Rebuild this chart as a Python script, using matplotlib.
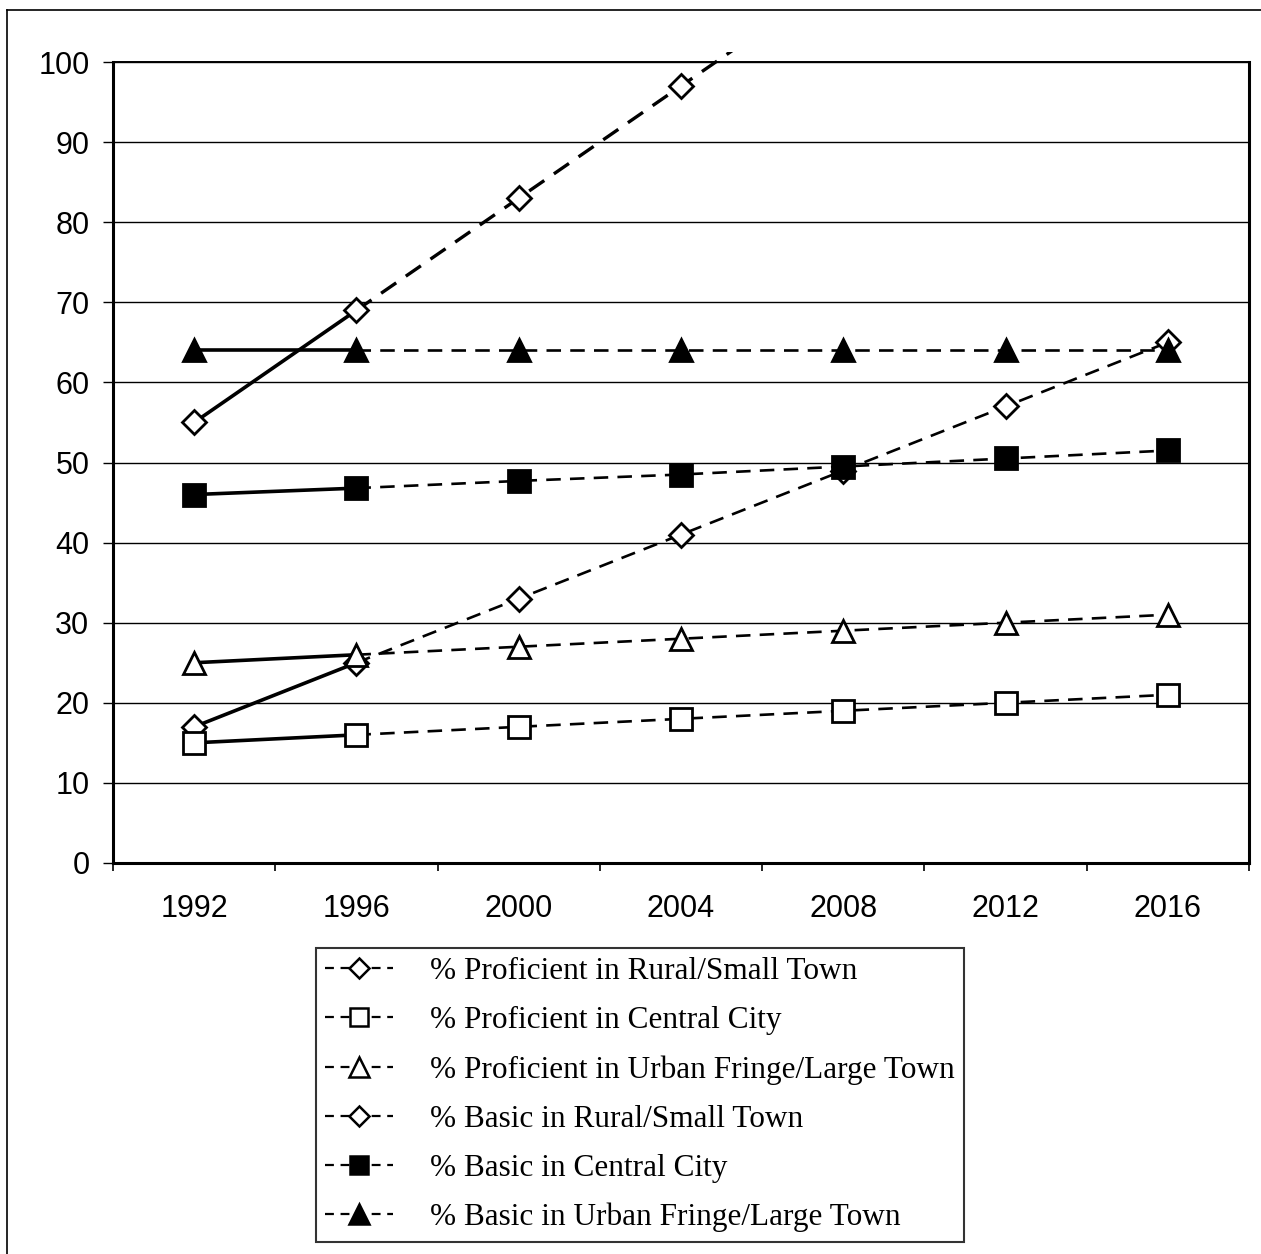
import matplotlib
matplotlib.use('Agg')
import matplotlib.pyplot as plt
from matplotlib.lines import Line2D
from matplotlib.patches import Rectangle

years = ['1992', '1996', '2000', '2004', '2008', '2012', '2016']

prof_rural = [17, 25, 33, 41, 49, 57, 65]
prof_central = [15, 16, 17, 18, 19, 20, 21]
prof_fringe = [25, 26, 27, 28, 29, 30, 31]
basic_rural = [55, 69, 83, 97, 111, 125, 139]
basic_central = [46, 46.8, 47.7, 48.5, 49.5, 50.5, 51.5]
basic_fringe = [64, 64, 64, 64, 64, 64, 64]

labels = ['% Proficient in Rural/Small Town',
          '% Proficient in Central City',
          '% Proficient in Urban Fringe/Large Town',
          '% Basic in Rural/Small Town',
          '% Basic in Central City',
          '% Basic in Urban Fringe/Large Town']

series = [prof_rural, prof_central, prof_fringe, basic_rural, basic_central, basic_fringe]
markers = [('D', 12.5, 'white'), ('s', 15.5, 'white'), ('^', 16.5, 'white'),
           ('D', 12.5, 'white'), ('s', 15.5, 'black'), ('^', 16.5, 'black')]

fig = plt.figure(figsize=(12.61, 12.54), dpi=100)
ax = fig.add_axes([113 / 1261, 1 - 863 / 1254, 1136 / 1261, 801 / 1254])

x = list(range(len(years)))
handles = []
for vals, (mk, ms, fc), lab in zip(series, markers, labels):
    # measured years drawn solid, later years dashed
    ax.plot(x[:2], vals[:2], color='black', lw=2.6, zorder=3)
    ln, = ax.plot(x[1:], vals[1:], color='black', lw=1.9, ls=(0, (5.5, 3.5)), zorder=3)
    ax.plot(x, vals, ls='none', marker=mk, ms=ms, mfc=fc, mec='black', mew=2.0, zorder=4)
    if vals is basic_rural:
        ln.set_linewidth(2.4)
        ln.set_clip_path(Rectangle((0, 0), 1, 1.012, transform=ax.transAxes))
    handles.append(Line2D([], [], color='black', lw=1.6, ls=(0, (4, 3)), marker=mk,
                          ms=ms * 0.85, mfc=fc, mec='black', mew=1.8))

ax.set_xlim(-0.5, 6.5)
ax.set_ylim(0, 100)
ax.set_yticks(range(0, 101, 10))
ax.set_xticks(x)
ax.set_xticklabels(years)
ax.set_xticks([i - 0.5 for i in range(8)], minor=True)
ax.grid(axis='y', color='black', lw=1.0)
ax.set_axisbelow(True)

for s in ['left', 'bottom', 'right']:
    ax.spines[s].set_linewidth(2.2)
ax.spines['top'].set_linewidth(1.4)

ax.tick_params(axis='y', length=7, width=1, pad=10, labelsize=22)
ax.tick_params(axis='x', which='major', length=0, pad=22, labelsize=22)
ax.tick_params(axis='x', which='minor', length=6, width=1.2)
for t in ax.get_xticklabels() + ax.get_yticklabels():
    t.set_family('Liberation Sans')

leg = ax.legend(handles, labels, loc='upper left',
                bbox_to_anchor=(316 / 1261, 1 - 948 / 1254),
                bbox_transform=fig.transFigure,
                prop={'family': 'Liberation Serif', 'size': 22.5},
                frameon=True, fancybox=False, numpoints=1,
                handlelength=2.15, handletextpad=1.2, labelspacing=0.64,
                borderpad=0.3, borderaxespad=0)
leg.get_frame().set_edgecolor('black')
leg.get_frame().set_linewidth(1.5)

# thin page border on the top and left edges
fig.add_artist(Line2D([7 / 1261, 1], [1 - 10 / 1254, 1 - 10 / 1254],
                      transform=fig.transFigure, color='black', lw=1.2))
fig.add_artist(Line2D([7 / 1261, 7 / 1261], [0, 1 - 10 / 1254],
                      transform=fig.transFigure, color='black', lw=1.2))

fig.savefig('out.png', dpi=100)
